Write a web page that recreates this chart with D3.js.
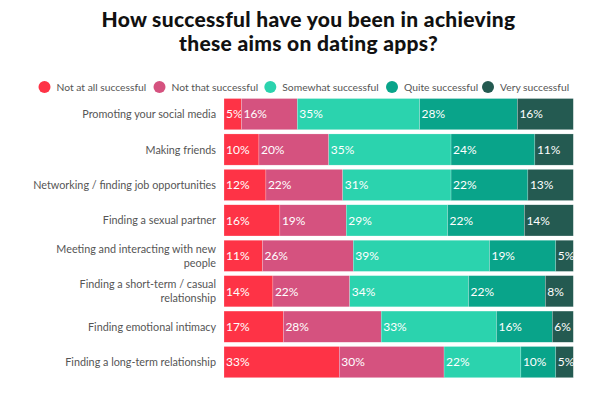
<!DOCTYPE html>
<html><head><meta charset="utf-8">
<script src="https://cdn.jsdelivr.net/npm/d3@7/dist/d3.min.js"></script>
<style>body{margin:0;background:#fff;} svg{display:block;font-family:Lato,"Open Sans",sans-serif;}</style>
</head><body><svg id="c" width="604" height="397"></svg>
<script>
const categories = [
  ["Promoting your social media"],
  ["Making friends"],
  ["Networking / finding job opportunities"],
  ["Finding a sexual partner"],
  ["Meeting and interacting with new", "people"],
  ["Finding a short-term / casual", "relationship"],
  ["Finding emotional intimacy"],
  ["Finding a long-term relationship"]
];
const seriesNames = ["Not at all successful","Not that successful","Somewhat successful","Quite successful","Very successful"];
const notAtAll   = [5,10,12,16,11,14,17,33];
const notThat    = [16,20,22,19,26,22,28,30];
const somewhat   = [35,35,31,29,39,34,33,22];
const quite      = [28,24,22,22,19,22,16,10];
const very       = [16,11,13,14,5,8,6,5];
const colors = ["#fe3346","#d5527f","#2bd3ae","#09a48a","#245a51"];

const seriesVals = [notAtAll, notThat, somewhat, quite, very];
const rows = categories.map((c,i)=>{
  const o = {key:i};
  seriesNames.forEach((s,j)=>o[s]=seriesVals[j][i]);
  return o;
});
const stack = d3.stack().keys(seriesNames)(rows);

const svg = d3.select("#c");
const x = d3.scaleLinear().domain([0,100]).range([224,573.3]);
const y = d3.scaleBand().domain(d3.range(categories.length)).range([96.4,379.8]).paddingInner(0.12).paddingOuter(0.06);

// title
const title = svg.append("text").attr("text-anchor","middle").attr("font-weight",900)
  .attr("font-size",21).attr("fill","#111").attr("letter-spacing",0.3);
title.append("tspan").attr("x",308.5).attr("y",27).text("How successful have you been in achieving");
title.append("tspan").attr("x",308.5).attr("y",51).text("these aims on dating apps?");

// legend
const legX = [44.5,159.5,270.3,392,488];
const leg = svg.append("g").selectAll("g").data(seriesNames).join("g")
  .attr("transform",(d,i)=>`translate(${legX[i]},87)`);
leg.append("circle").attr("r",6).attr("fill",(d,i)=>colors[i]);
leg.append("text").attr("x",12).attr("y",3.8).attr("font-size",10.3).attr("fill","#555").text(d=>d);

// bars
const g = svg.append("g");
stack.forEach((s,si)=>{
  const sg = g.append("g");
  sg.selectAll("rect").data(s).join("rect")
    .attr("x",d=>x(d[0])).attr("width",d=>x(d[1])-x(d[0]))
    .attr("y",(d,i)=>y(i)).attr("height",y.bandwidth())
    .attr("fill",colors[si]).attr("stroke","#fff").attr("stroke-width",0.4).attr("stroke-opacity",0.5);
  sg.selectAll("text").data(s).join("text")
    .attr("x",d=>x(d[0])+2).attr("y",(d,i)=>y(i)+y.bandwidth()/2+4.3)
    .attr("font-size",12).attr("fill","#fff")
    .text(d=>(d[1]-d[0])+"%");
});

// category labels
const cl = svg.append("g").selectAll("text").data(categories).join("text")
  .attr("text-anchor","end").attr("font-size",10.8).attr("fill","#555");
cl.each(function(lines,i){
  const t = d3.select(this);
  const cy = y(i)+y.bandwidth()/2;
  const lh = 13.5;
  const start = cy - (lines.length-1)*lh/2 + 4;
  lines.forEach((ln,k)=>t.append("tspan").attr("x",216).attr("y",start+k*lh).text(ln));
});
</script></body></html>
